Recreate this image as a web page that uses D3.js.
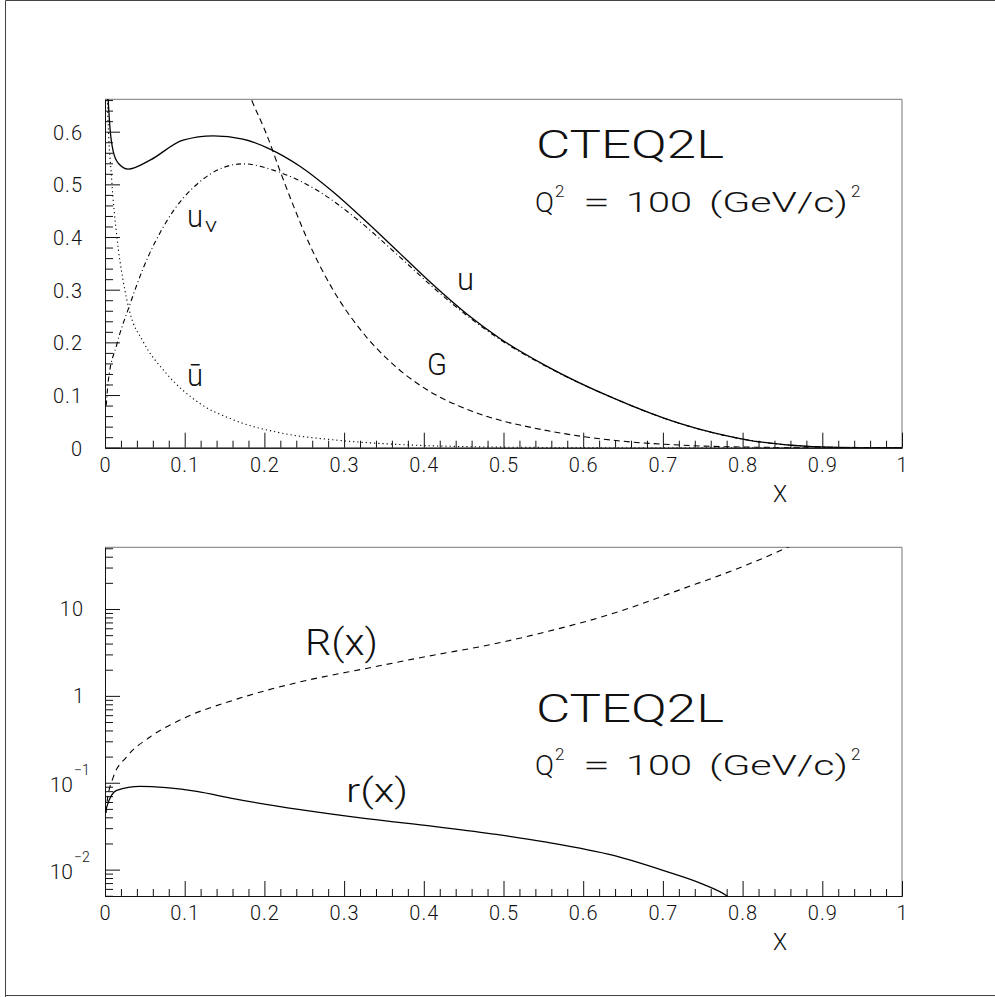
<!DOCTYPE html>
<html>
<head>
<meta charset="utf-8">
<script src="https://cdn.jsdelivr.net/npm/d3@7"></script>
<style>
  body { margin: 0; background: #fff; }
  svg text { font-family: Roboto, "Liberation Sans", sans-serif; font-weight: 300; fill: #111; }
  .tick text { letter-spacing: 1px; }
</style>
</head>
<body>
<svg id="chart" width="995" height="997"></svg>
<script>
// ---- top panel: parton densities x*f(x) at Q^2 = 100 ----
const uX    = [0.002, 0.004, 0.0063, 0.0104, 0.0167, 0.029, 0.0565, 0.098, 0.136, 0.173, 0.207, 0.245, 0.286, 0.328, 0.370, 0.412, 0.454, 0.496, 0.554, 0.638, 0.721, 0.805, 0.888, 0.95, 1.0];
const uY    = [0.72, 0.66, 0.606, 0.562, 0.540, 0.529, 0.546, 0.584, 0.592, 0.586, 0.567, 0.534, 0.486, 0.429, 0.369, 0.309, 0.254, 0.207, 0.155, 0.094, 0.046, 0.015, 0.002, 0.0, 0.0];
const uvX   = [0.0015, 0.004, 0.0146, 0.031, 0.048, 0.077, 0.119, 0.173, 0.211, 0.266, 0.320, 0.370, 0.412, 0.454, 0.496, 0.554, 0.638, 0.721, 0.805, 0.888, 0.95, 1.0];
const uvY   = [0.08, 0.125, 0.195, 0.271, 0.341, 0.429, 0.505, 0.539, 0.527, 0.489, 0.429, 0.362, 0.304, 0.251, 0.205, 0.154, 0.094, 0.046, 0.015, 0.002, 0.0, 0.0];
const ubarX = [0.002, 0.003, 0.0083, 0.0146, 0.023, 0.031, 0.048, 0.077, 0.119, 0.161, 0.224, 0.286, 0.370, 0.454, 0.55, 0.65, 0.8, 1.0];
const ubarY = [0.75, 0.66, 0.511, 0.404, 0.315, 0.258, 0.201, 0.141, 0.084, 0.053, 0.027, 0.015, 0.006, 0.002, 0.0005, 0.0, 0.0, 0.0];
const gX    = [0.175, 0.184, 0.203, 0.220, 0.236, 0.257, 0.286, 0.320, 0.358, 0.404, 0.454, 0.496, 0.533, 0.596, 0.659, 0.721, 0.8, 0.9, 1.0];
const gY    = [0.695, 0.66, 0.594, 0.524, 0.461, 0.385, 0.300, 0.225, 0.163, 0.110, 0.073, 0.052, 0.039, 0.022, 0.011, 0.005, 0.0012, 0.0, 0.0];

// ---- bottom panel: ratios (log scale) ----
const RX = [0.001, 0.002, 0.0104, 0.027, 0.0565, 0.098, 0.161, 0.245, 0.328, 0.412, 0.470, 0.554, 0.638, 0.721, 0.805, 0.857, 0.9];
const RY = [0.045, 0.055, 0.116, 0.198, 0.336, 0.548, 0.891, 1.45, 2.07, 2.94, 3.67, 5.47, 8.92, 16.6, 32.1, 51.5, 80];
const rX = [0.001, 0.002, 0.0146, 0.044, 0.077, 0.115, 0.161, 0.245, 0.328, 0.412, 0.491, 0.554, 0.638, 0.700, 0.75, 0.78, 0.8];
const rY = [0.045, 0.052, 0.0817, 0.0908, 0.0877, 0.0796, 0.0656, 0.049, 0.0386, 0.0314, 0.0254, 0.0207, 0.01455, 0.0098, 0.0068, 0.005, 0.0035];

// ticks
const xTicks = [0, 0.1, 0.2, 0.3, 0.4, 0.5, 0.6, 0.7, 0.8, 0.9, 1];
const xTickLabels = ["0", "0.1", "0.2", "0.3", "0.4", "0.5", "0.6", "0.7", "0.8", "0.9", "1"];
const yTicks = [0, 0.1, 0.2, 0.3, 0.4, 0.5, 0.6];
const yTickLabels = ["0", "0.1", "0.2", "0.3", "0.4", "0.5", "0.6"];
const logTicks = [0.01, 0.1, 1, 10];

const svg = d3.select("#chart");

// outer frame
svg.append("path").attr("d", "M5.5,997 V0.5 H995 M5.5,995.5 H995")
  .attr("fill", "none").attr("stroke", "#444");

const xs = d3.scaleLinear().domain([0, 1]).range([105, 902]);
const yTop = d3.scaleLinear().domain([0, 0.6615]).range([447.7, 99.3]);
const yBot = d3.scaleLog().domain([0.00497, 51.3]).range([896, 547.3]);

const xMinor = d3.range(0, 51).filter(i => i % 5).map(i => i / 50);
const yMinor = d3.range(0, 34).filter(i => i % 5).map(i => i / 50);
let logMinor = [];
[0.001, 0.01, 0.1, 1, 10].forEach(dec => {
  for (let k = 2; k <= 9; k++) {
    const v = k * dec;
    if (v >= 0.00497 && v <= 51.3) logMinor.push(v);
  }
});

function styleAxis(g) {
  g.selectAll("line,path").attr("stroke", "#111");
  g.attr("font-size", 20);
}

function panelFrame(y, id) {
  const [x0, x1] = xs.range();
  const [yb, yt] = y.range();
  svg.append("clipPath").attr("id", id).append("rect")
    .attr("x", x0).attr("y", yt).attr("width", x1 - x0).attr("height", yb - yt);
  svg.append("path").attr("d", `M${x0},${yt} H${x1} V${yb}`)
    .attr("fill", "none").attr("stroke", "#777");

  // x axis, ticks pointing up
  svg.append("g").attr("transform", `translate(0,${yb})`)
    .call(d3.axisBottom(xs).tickValues(xMinor).tickFormat("").tickSize(-7).tickSizeOuter(0))
    .call(styleAxis);
  svg.append("g").attr("transform", `translate(0,${yb})`)
    .call(d3.axisBottom(xs).tickValues(xTicks).tickFormat((d, i) => xTickLabels[i])
      .tickSize(-15).tickSizeOuter(0).tickPadding(10))
    .call(styleAxis);
}

// ---------- top panel ----------
panelFrame(yTop, "clipTop");
svg.append("g").attr("transform", "translate(105,0)")
  .call(d3.axisLeft(yTop).tickValues(yMinor).tickFormat("").tickSize(-8).tickSizeOuter(0))
  .call(styleAxis);
const gy = svg.append("g").attr("transform", "translate(105,0)")
  .call(d3.axisLeft(yTop).tickValues(yTicks).tickFormat((d, i) => yTickLabels[i])
    .tickSize(-15).tickSizeOuter(0).tickPadding(22))
  .call(styleAxis);
gy.selectAll("text").attr("dy", "0.38em");

const lineTop = (X, Y) => d3.line()
  .x((d, i) => xs(X[i])).y(d => yTop(d))
  .curve(d3.curveMonotoneX)(Y);

const topCurves = [
  { X: uX, Y: uY, dash: null, w: 1.3 },
  { X: uvX, Y: uvY, dash: "5,3,1,3", w: 1.1 },
  { X: ubarX, Y: ubarY, dash: "1.2,3", w: 1.1 },
  { X: gX, Y: gY, dash: "6,4", w: 1.1 }
];
const gTop = svg.append("g").attr("clip-path", "url(#clipTop)");
topCurves.forEach(c => {
  gTop.append("path")
    .attr("d", lineTop(c.X, c.Y))
    .attr("fill", "none").attr("stroke", "#000")
    .attr("stroke-width", c.w)
    .attr("stroke-dasharray", c.dash);
});

// curve labels
svg.append("text").attr("x", 187).attr("y", 227).attr("font-size", 31)
  .attr("textLength", 16).attr("lengthAdjust", "spacingAndGlyphs").text("u");
svg.append("text").attr("x", 205).attr("y", 232).attr("font-size", 20)
  .attr("textLength", 12).attr("lengthAdjust", "spacingAndGlyphs").text("v");
svg.append("text").attr("x", 187).attr("y", 386).attr("font-size", 31)
  .attr("textLength", 16).attr("lengthAdjust", "spacingAndGlyphs").text("ū");
svg.append("text").attr("x", 457).attr("y", 290).attr("font-size", 31)
  .attr("textLength", 17).attr("lengthAdjust", "spacingAndGlyphs").text("u");
svg.append("text").attr("x", 427).attr("y", 375).attr("font-size", 31)
  .attr("textLength", 20).attr("lengthAdjust", "spacingAndGlyphs").text("G");
svg.append("text").attr("x", 780).attr("y", 502).attr("font-size", 23)
  .attr("text-anchor", "middle").text("X");

function titleBlock(yBase) {
  svg.append("text").attr("x", 536).attr("y", yBase).attr("font-size", 38)
    .attr("textLength", 188).attr("lengthAdjust", "spacingAndGlyphs").text("CTEQ2L");
  const y2 = yBase + 53.4;
  svg.append("text").attr("x", 535).attr("y", y2).attr("font-size", 28)
    .attr("textLength", 19).attr("lengthAdjust", "spacingAndGlyphs").text("Q");
  svg.append("text").attr("x", 555).attr("y", y2 - 15).attr("font-size", 17).text("2");
  svg.append("text").attr("x", 583).attr("y", y2).attr("font-size", 28)
    .attr("textLength", 27).attr("lengthAdjust", "spacingAndGlyphs").text("=");
  svg.append("text").attr("x", 626).attr("y", y2).attr("font-size", 28)
    .attr("textLength", 66).attr("lengthAdjust", "spacingAndGlyphs").text("100");
  svg.append("text").attr("x", 709).attr("y", y2).attr("font-size", 28)
    .attr("textLength", 139).attr("lengthAdjust", "spacingAndGlyphs").text("(GeV/c)");
  svg.append("text").attr("x", 851).attr("y", y2 - 15).attr("font-size", 17).text("2");
}
titleBlock(158.3);

// ---------- bottom panel ----------
panelFrame(yBot, "clipBot");
svg.append("g").attr("transform", "translate(105,0)")
  .call(d3.axisLeft(yBot).tickValues(logMinor).tickFormat("").tickSize(-8).tickSizeOuter(0))
  .call(styleAxis);
svg.append("g").attr("transform", "translate(105,0)")
  .call(d3.axisLeft(yBot).tickValues(logTicks).tickFormat("").tickSize(-15).tickSizeOuter(0))
  .call(styleAxis);

// log tick labels
svg.append("text").attr("x", 84).attr("y", yBot(10) + 7.5).attr("font-size", 20)
  .attr("text-anchor", "end").attr("letter-spacing", 1).text("10");
svg.append("text").attr("x", 84).attr("y", yBot(1) + 7.5).attr("font-size", 20)
  .attr("text-anchor", "end").text("1");
[[0.1, "\u22121"], [0.01, "\u22122"]].forEach(([v, e]) => {
  const y = yBot(v);
  svg.append("text").attr("x", 73).attr("y", y + 9.5).attr("font-size", 21)
    .attr("text-anchor", "end").text("10");
  svg.append("text").attr("x", 74).attr("y", y - 8).attr("font-size", 14).text(e);
});

const lineBot = (X, Y) => d3.line()
  .x((d, i) => xs(X[i])).y(d => yBot(d))
  .curve(d3.curveMonotoneX)(Y);

const gBot = svg.append("g").attr("clip-path", "url(#clipBot)");
gBot.append("path").attr("d", lineBot(RX, RY))
  .attr("fill", "none").attr("stroke", "#000").attr("stroke-width", 1.1)
  .attr("stroke-dasharray", "6,5");
gBot.append("path").attr("d", lineBot(rX, rY))
  .attr("fill", "none").attr("stroke", "#000").attr("stroke-width", 1.3);

svg.append("text").attr("x", 305).attr("y", 655).attr("font-size", 36)
  .attr("textLength", 73).attr("lengthAdjust", "spacingAndGlyphs").text("R(x)");
svg.append("text").attr("x", 346).attr("y", 802).attr("font-size", 34)
  .attr("textLength", 62).attr("lengthAdjust", "spacingAndGlyphs").text("r(x)");
svg.append("text").attr("x", 780).attr("y", 950).attr("font-size", 23)
  .attr("text-anchor", "middle").text("X");

titleBlock(721.7);
</script>
</body>
</html>
